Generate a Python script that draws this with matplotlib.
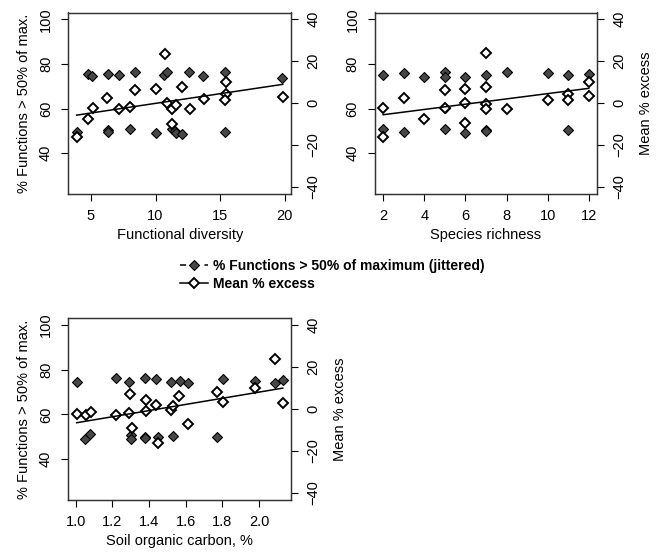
# Three-panel scatter: % functions > 50% of max (left axis) and mean % excess (right axis)

import matplotlib
matplotlib.use("Agg")
import matplotlib.pyplot as plt
from matplotlib.lines import Line2D

plt.rcParams["font.family"] = ["Liberation Sans", "DejaVu Sans"]
plt.rcParams["font.size"] = 10

# --- data ------------------------------------------------------------------
# functional diversity
fd_pct_x = [3.89, 4.75, 5.11, 6.29, 6.34, 6.29, 7.19, 8.02, 8.41, 10.03, 10.67,
            10.85, 11.29, 11.50, 11.62, 12.06, 12.60, 13.69, 15.41, 15.41, 19.83]
fd_pct_y = [49.4, 75.5, 74.5, 75.5, 50.2, 49.6, 75.0, 51.0, 76.4, 48.9, 75.0,
            76.3, 50.8, 49.9, 49.1, 48.8, 76.4, 74.6, 76.4, 49.5, 73.9]
fd_exc_x = [3.89, 4.77, 5.15, 6.26, 7.19, 8.02, 8.38, 10.05, 10.70, 10.90,
            11.29, 11.29, 11.62, 12.01, 12.65, 13.74, 15.44, 15.44, 15.36, 19.85]
fd_exc_y = [-16.2, -7.7, -2.2, 2.5, -2.7, -1.9, 6.1, 6.8, 23.5, 0.2,
            -9.8, -2.7, -1.1, 7.7, -3.0, 1.7, 9.9, 4.1, 1.3, 3.1]
fd_fit = (-9.38, 0.921)  # intercept, slope (right axis)

# species richness
sr_pct_x = [2, 2, 3, 3, 4, 5, 5, 5, 5, 6, 6, 7, 7, 7, 8, 10, 11, 11, 12]
sr_pct_y = [75.0, 51.0, 76.0, 49.6, 74.3, 76.2, 74.3, 60.2, 51.0, 74.3, 49.1,
            75.0, 50.5, 49.8, 76.2, 75.8, 75.0, 50.5, 75.3]
sr_exc_x = [2, 2, 3, 4, 5, 5, 6, 6, 6, 7, 7, 7, 7, 8, 10, 11, 11, 12, 12]
sr_exc_y = [-2.2, -16.1, 2.5, -7.7, 6.0, -2.2, 6.9, 0.2, -9.6, 23.7, 7.6,
            -0.4, -2.8, -3.0, 1.4, 4.1, 1.4, 9.9, 3.3]
sr_fit = (-8.12, 1.26)

# soil organic carbon
soc_pct_x = [1.005, 1.049, 1.078, 1.217, 1.293, 1.300, 1.300, 1.379, 1.380, 1.380,
             1.437, 1.450, 1.520, 1.533, 1.569, 1.614, 1.773, 1.804, 1.976, 2.086, 2.129]
soc_pct_y = [74.6, 48.9, 51.1, 76.4, 74.6, 50.8, 49.0, 76.5, 50.1, 49.3,
             75.8, 50.1, 74.5, 50.3, 75.0, 74.2, 50.1, 75.8, 75.0, 74.2, 75.2]
soc_exc_x = [1.005, 1.054, 1.081, 1.217, 1.289, 1.298, 1.307, 1.381, 1.381, 1.437,
             1.450, 1.520, 1.529, 1.565, 1.614, 1.773, 1.804, 1.976, 2.086, 2.129]
soc_exc_y = [-2.4, -3.1, -1.4, -3.0, -1.9, 7.2, -9.3, 4.1, -0.8, 1.7,
             -16.1, -0.6, 1.3, 6.0, -7.4, 7.9, 3.5, 9.9, 23.8, 2.8]
soc_fit = (-21.35, 14.68)

left_ticks = [40, 60, 80, 100]
right_ticks = [-40, -20, 0, 20, 40]

W, H = 658, 554
FILL = "#474747"


def px_axes(fig, left, top, right, bottom):
    return fig.add_axes([left / W, 1 - bottom / H, (right - left) / W, (bottom - top) / H])


def r_lim(lo, hi):
    # R's default 4% axis expansion
    pad = 0.04 * (hi - lo)
    return lo - pad, hi + pad


def panel(ax, pct_x, pct_y, exc_x, exc_y, fit, xticks, xfmt, xlabel,
          left_label=None, right_label=None):
    ax2 = ax.twinx()
    ax.plot(pct_x, pct_y, "D", ms=5.3, mfc=FILL, mec="black", mew=0.8, ls="none")
    ax2.plot(exc_x, exc_y, "D", ms=4.8, mfc="white", mec="black", mew=1.4, ls="none")
    x0, x1 = min(exc_x), max(exc_x)
    ax2.plot([x0, x1], [fit[0] + fit[1] * x0, fit[0] + fit[1] * x1],
             color="black", lw=1.1)

    xs = pct_x + exc_x
    ax.set_xlim(*r_lim(min(xs), max(xs)))
    ax.set_ylim(*r_lim(25, 100))
    ax2.set_ylim(*r_lim(-40, 40))

    ax.set_xticks(xticks)
    ax.set_xticklabels([xfmt % t for t in xticks])
    ax.set_yticks(left_ticks)
    ax2.set_yticks(right_ticks)
    ax.tick_params(axis="y", labelrotation=90)
    ax2.tick_params(axis="y", labelrotation=90)
    for a in (ax, ax2):
        a.tick_params(direction="out", length=5, width=0.8, pad=6, labelsize=10.5)
        for s in a.spines.values():
            s.set_linewidth(0.9)
            s.set_color("#333333")
    for lab in ax.get_yticklabels() + ax2.get_yticklabels():
        lab.set_va("center")

    ax.set_xlabel(xlabel, fontsize=10.5, labelpad=4)
    if left_label:
        ax.set_ylabel(left_label, fontsize=10.5, labelpad=6)
    if right_label:
        ax2.set_ylabel(right_label, fontsize=10.5, labelpad=9)


fig = plt.figure(figsize=(W / 100, H / 100), dpi=100)

ax_a = px_axes(fig, 68.4, 12.5, 291, 193.5)
panel(ax_a, fd_pct_x, fd_pct_y, fd_exc_x, fd_exc_y, fd_fit,
      [5, 10, 15, 20], "%d", "Functional diversity",
      left_label="% Functions > 50% of max.")

ax_b = px_axes(fig, 375, 12.5, 597, 193.5)
panel(ax_b, sr_pct_x, sr_pct_y, sr_exc_x, sr_exc_y, sr_fit,
      [2, 4, 6, 8, 10, 12], "%d", "Species richness",
      right_label="Mean % excess")

ax_c = px_axes(fig, 68.4, 318.3, 291, 499.5)
panel(ax_c, soc_pct_x, soc_pct_y, soc_exc_x, soc_exc_y, soc_fit,
      [1.0, 1.2, 1.4, 1.6, 1.8, 2.0], "%.1f", "Soil organic carbon, %",
      left_label="% Functions > 50% of max.", right_label="Mean % excess")

handles = [
    Line2D([], [], color="black", lw=1.1, dashes=(4, 12), marker="D", ms=5.3,
           mfc=FILL, mec="black", mew=0.8),
    Line2D([], [], color="black", lw=1.1, marker="D", ms=4.8,
           mfc="white", mec="black", mew=1.4),
]
fig.legend(handles, ["% Functions > 50% of maximum (jittered)", "Mean % excess"],
           loc="upper left", bbox_to_anchor=(180 / W, 1 - 259 / H),
           frameon=False, prop={"weight": "bold", "size": 10},
           handlelength=2.0, handletextpad=0.35, labelspacing=0.3,
           borderaxespad=0, borderpad=0, numpoints=1)

fig.savefig("out.png", dpi=100)
